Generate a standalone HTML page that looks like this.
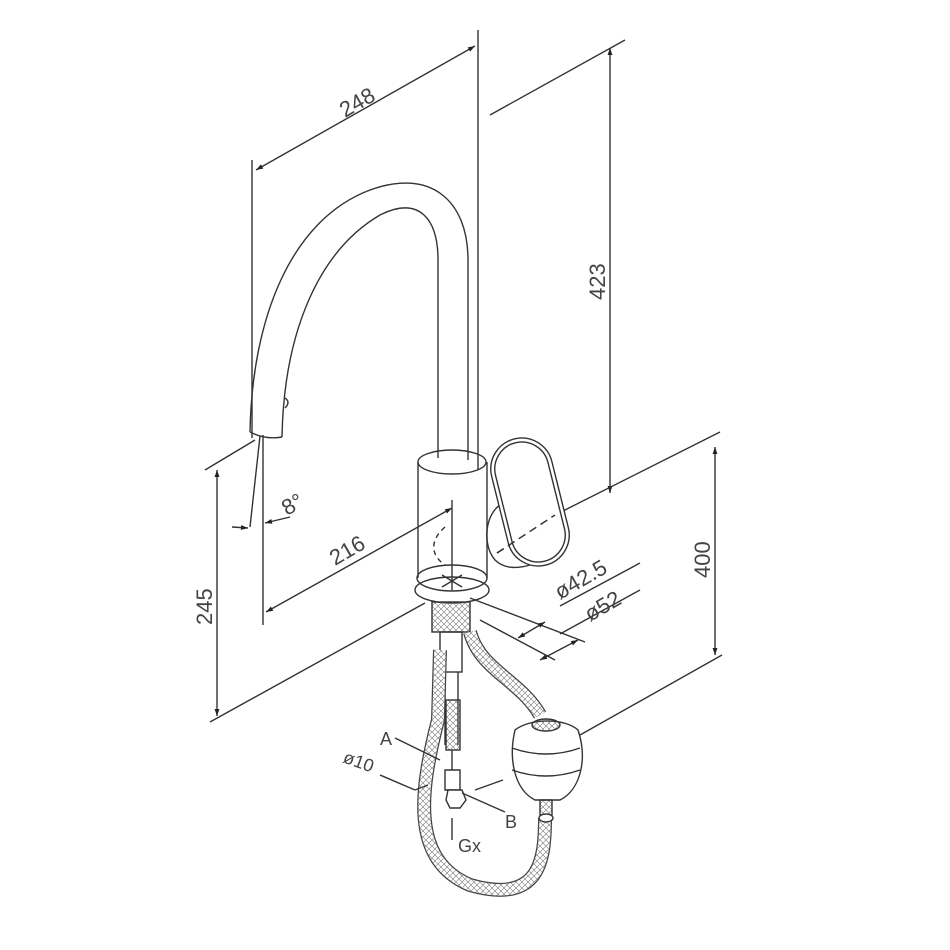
<!DOCTYPE html>
<html><head><style>html,body{margin:0;padding:0;background:#fff}svg{display:block}</style></head>
<body>
<svg width="950" height="950" viewBox="0 0 950 950" xmlns="http://www.w3.org/2000/svg" font-family="Liberation Sans, sans-serif">
<defs>
<marker id="a" viewBox="0 0 10 10" refX="10" refY="5" markerWidth="9" markerHeight="7" orient="auto-start-reverse" markerUnits="userSpaceOnUse"><path d="M0,1.5L10,5L0,8.5z" fill="#222"/></marker>
<pattern id="br" width="6" height="6" patternUnits="userSpaceOnUse"><path d="M0,0L6,6M6,0L0,6" stroke="#777" stroke-width="0.6"/></pattern>
</defs>
<g stroke="#333" stroke-width="1.4" fill="none">
<line x1="252" y1="160" x2="252" y2="438"/>
<line x1="478" y1="30" x2="478" y2="470"/>
<line x1="256" y1="170" x2="475" y2="46" marker-start="url(#a)" marker-end="url(#a)"/>
<line x1="490" y1="115" x2="625" y2="40"/>
<line x1="610" y1="48" x2="610" y2="493" marker-start="url(#a)" marker-end="url(#a)"/>
<line x1="555" y1="515" x2="720" y2="432"/>
<line x1="497" y1="553" x2="555" y2="515" stroke-dasharray="8,5"/>
<line x1="715" y1="447" x2="715" y2="655" marker-start="url(#a)" marker-end="url(#a)"/>
<line x1="580" y1="735" x2="722" y2="655"/>
<line x1="205" y1="470" x2="255" y2="440"/>
<line x1="217" y1="470" x2="217" y2="716" marker-start="url(#a)" marker-end="url(#a)"/>
<line x1="210" y1="722" x2="425" y2="603"/>
<line x1="263" y1="435" x2="263" y2="625"/>
<line x1="260" y1="436" x2="250" y2="527"/>
<line x1="266" y1="612" x2="452" y2="508" marker-end="url(#a)" marker-start="url(#a)"/>
<line x1="232" y1="527" x2="248" y2="528" marker-end="url(#a)"/>
<line x1="290" y1="517" x2="265" y2="523" marker-end="url(#a)"/>
<line x1="470" y1="598" x2="585" y2="642"/>
<line x1="480" y1="620" x2="555" y2="660"/>
<line x1="518" y1="638" x2="545" y2="622" marker-start="url(#a)" marker-end="url(#a)"/>
<line x1="540" y1="660" x2="578" y2="640" marker-start="url(#a)" marker-end="url(#a)"/>
<line x1="560" y1="606" x2="640" y2="563"/>
<line x1="560" y1="634" x2="640" y2="590"/>
<path d="M250,432 C252,320 290,220 370,190 C430,168 468,200 468,260 L468,460"/>
<path d="M282,437 C284,330 320,250 380,215 C420,195 438,220 438,260 L438,458"/>
<path d="M250,432 Q266,440 282,437"/>
<path d="M285,398 q6,4 0,10"/>
<ellipse cx="452" cy="462" rx="34" ry="12"/>
<line x1="418" y1="462" x2="418" y2="578"/>
<line x1="487" y1="462" x2="487" y2="578"/>
<ellipse cx="452" cy="578" rx="35" ry="13"/>
<ellipse cx="452" cy="590" rx="37" ry="13"/>
<line x1="452" y1="500" x2="452" y2="590"/>
<path d="M442,575 l20,12 M462,575 l-20,12"/>
<path d="M445,527 C430,540 430,555 445,565" stroke-dasharray="5,4"/>
<path d="M500,505 C485,515 482,545 495,560 C505,570 520,568 530,565"/>
<g transform="rotate(-14 530 502)"><rect x="499" y="437" width="62" height="130" rx="31" fill="#fff"/><rect x="503" y="441" width="54" height="122" rx="27"/></g>
<line x1="497" y1="553" x2="555" y2="515" stroke-dasharray="8,5"/>
<rect x="432" y="602" width="38" height="30" fill="url(#br)"/>
<rect x="440" y="632" width="22" height="40"/>
<path d="M445,672 L445,745 M458,672 L458,745"/>
<path d="M470,632 C480,670 520,680 540,715" stroke="#444" stroke-width="14"/>
<path d="M470,632 C480,670 520,680 540,715" stroke="#fff" stroke-width="11.5"/>
<path d="M470,632 C480,670 520,680 540,715" stroke="url(#br)" stroke-width="11.5"/>
<path d="M440,650 L438,720 C420,790 410,860 470,885 C540,905 545,860 545,818" stroke="#444" stroke-width="14"/>
<path d="M440,650 L438,720 C420,790 410,860 470,885 C540,905 545,860 545,818" stroke="#fff" stroke-width="11.5"/>
<path d="M440,650 L438,720 C420,790 410,860 470,885 C540,905 545,860 545,818" stroke="url(#br)" stroke-width="11.5"/>
<rect x="446" y="700" width="14" height="50" fill="url(#br)"/>
<path d="M452,750 l0,20 M445,790 l15,0 l0,-20 l-15,0z"/>
<polygon points="448,790 462,790 466,800 460,808 450,808 446,800" fill="#fff"/>
<path d="M515,730 C530,718 565,718 578,730 C588,760 580,790 560,800 L535,800 C515,790 508,760 515,730z" fill="#fff"/>
<path d="M512,748 Q546,760 580,748 M512,770 Q546,782 580,770"/>
<ellipse cx="546" cy="725" rx="14" ry="6" fill="url(#br)"/>
<rect x="540" y="800" width="12" height="15" fill="url(#br)"/>
<ellipse cx="546" cy="818" rx="7" ry="4" fill="#fff"/>
<line x1="395" y1="738" x2="440" y2="760"/>
<line x1="380" y1="775" x2="415" y2="790"/>
<line x1="415" y1="790" x2="428" y2="785"/>
<line x1="462" y1="793" x2="505" y2="812"/>
<line x1="475" y1="790" x2="503" y2="780"/>
<line x1="452" y1="818" x2="452" y2="840"/>
</g>
<g fill="#444" font-size="22">
<text transform="translate(345,118) rotate(-30)">248</text>
<text transform="translate(605,300) rotate(-90)">423</text>
<text transform="translate(710,578) rotate(-90)">400</text>
<text transform="translate(212,625) rotate(-90)">245</text>
<text transform="translate(335,566) rotate(-30)">216</text>
<text transform="translate(287,516) rotate(-30)">8°</text>
<text transform="translate(560,600) rotate(-30)">ø42.5</text>
<text transform="translate(590,622) rotate(-30)">ø52</text>
<text x="380" y="745" font-size="18">A</text>
<text font-size="18" transform="translate(342,762) rotate(20)">ø10</text>
<text x="505" y="828" font-size="18">B</text>
<text x="458" y="852" font-size="18">Gx</text>
</g>
</svg>
</body></html>
